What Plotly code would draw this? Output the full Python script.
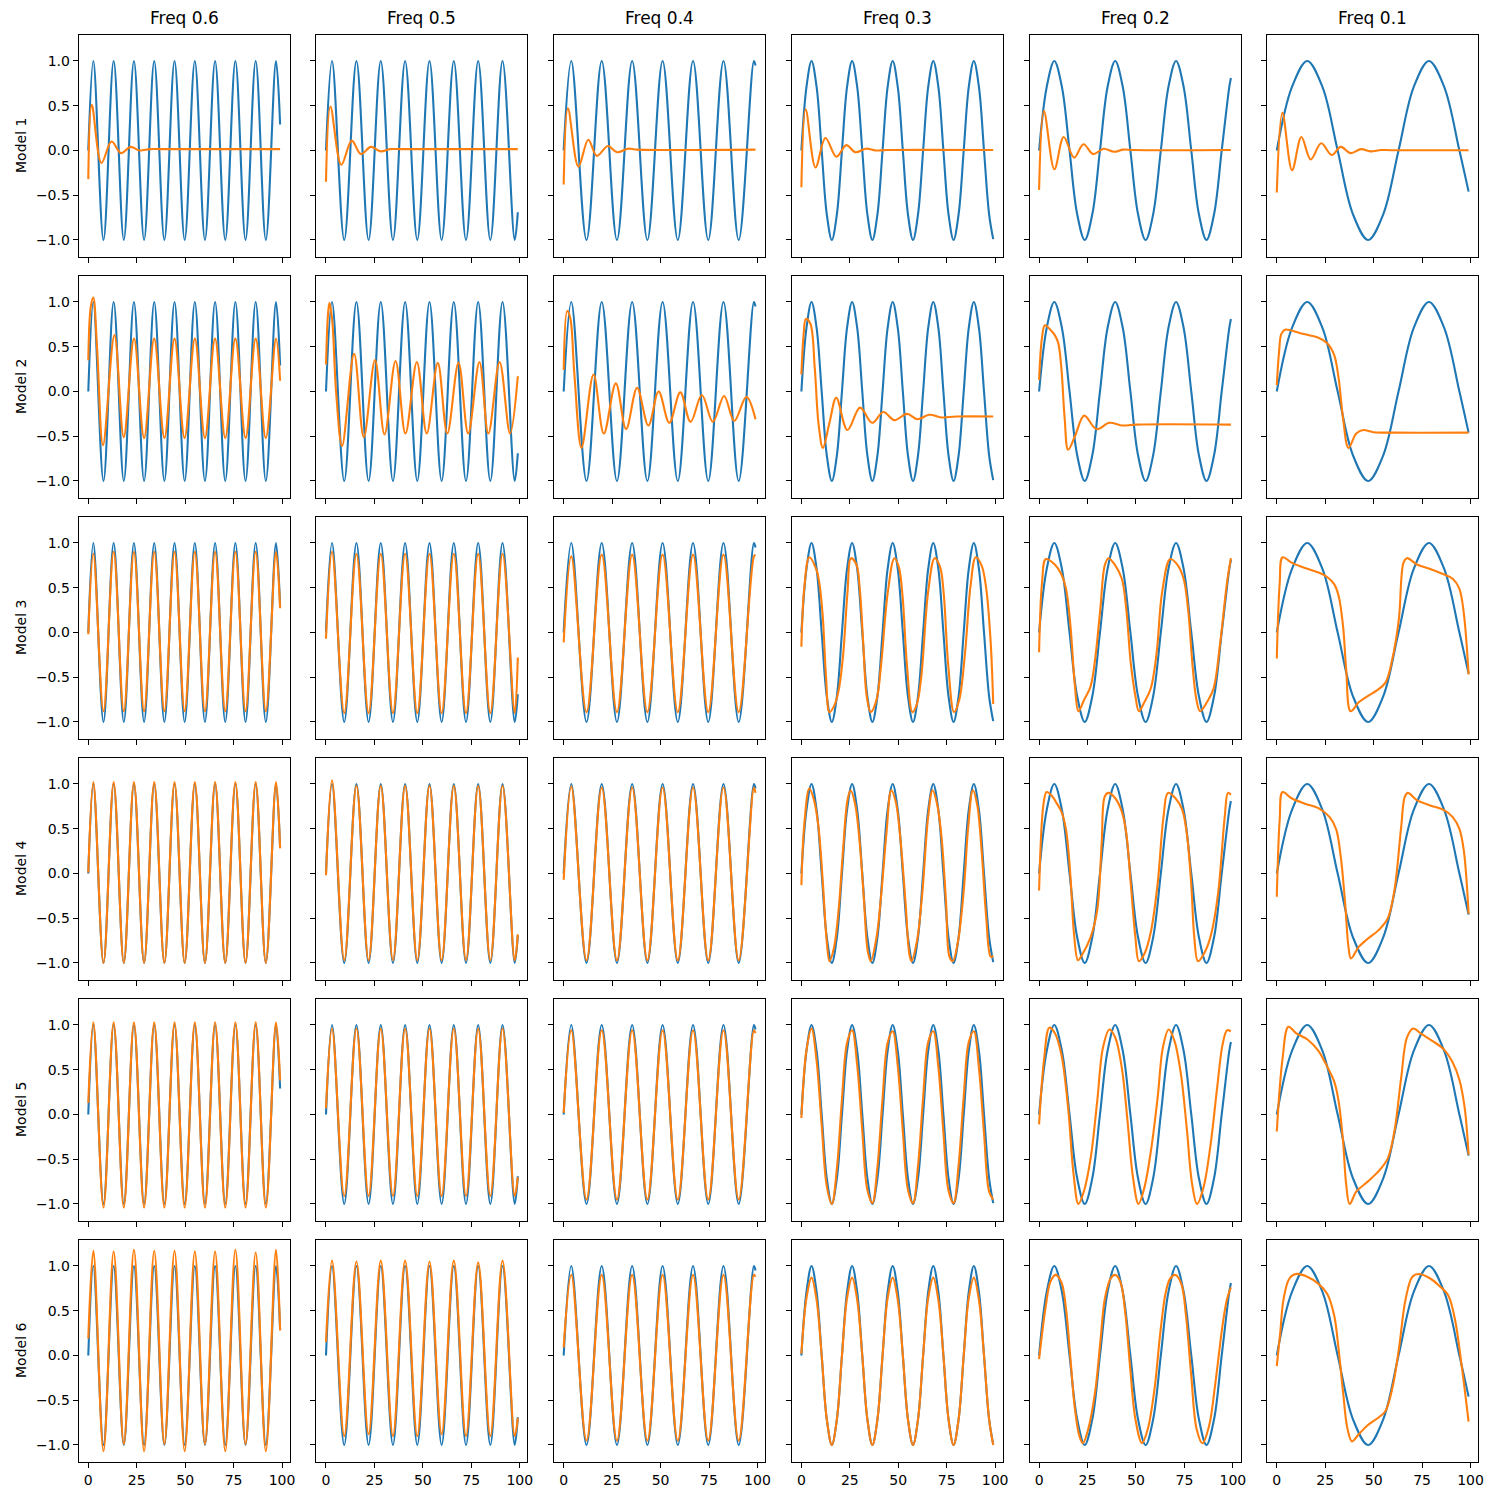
import plotly.graph_objects as go

# ---------------- labels / ticks ----------------
col_titles = ["Freq 0.6", "Freq 0.5", "Freq 0.4", "Freq 0.3", "Freq 0.2", "Freq 0.1"]
row_titles = ["Model 1", "Model 2", "Model 3", "Model 4", "Model 5", "Model 6"]
x_tick_vals = [0, 25, 50, 75, 100]
x_tick_text = ["0", "25", "50", "75", "100"]
y_tick_vals = [-1.0, -0.5, 0.0, 0.5, 1.0]
y_tick_text = ["\u22121.0", "\u22120.5", "0.0", "0.5", "1.0"]

# ---------------- target (blue) sine, key points ----------------
x_grid_06 = [0, 2.62, 7.85, 13.09, 18.33, 23.56, 28.80, 34.03, 39.27, 44.51, 49.74, 54.98,
             60.21, 65.45, 70.69, 75.92, 81.16, 86.39, 91.63, 96.87, 99]
blue_06 = [0, 1, -1, 1, -1, 1, -1, 1, -1, 1, -1, 1, -1, 1, -1, 1, -1, 1, -1, 1, 0.29]

x_grid_05 = [0, 3.14, 9.42, 15.71, 21.99, 28.27, 34.56, 40.84, 47.12, 53.41, 59.69, 65.97,
             72.26, 78.54, 84.82, 91.11, 97.39, 99]
blue_05 = [0, 1, -1, 1, -1, 1, -1, 1, -1, 1, -1, 1, -1, 1, -1, 1, -1, -0.69]

x_grid_04 = [0, 3.93, 11.78, 19.63, 27.49, 35.34, 43.20, 51.05, 58.90, 66.76, 74.61, 82.47,
             90.32, 98.17, 99]
blue_04 = [0, 1, -1, 1, -1, 1, -1, 1, -1, 1, -1, 1, -1, 1, 0.95]

x_grid_03 = [0, 2.62, 5.24, 7.85, 10.47, 13.09, 15.71, 18.33, 20.94, 23.56, 26.18, 28.80,
             31.42, 34.03, 36.65, 39.27, 41.89, 44.51, 47.12, 49.74, 52.36, 54.98, 57.60,
             60.21, 62.83, 65.45, 68.07, 70.69, 73.30, 75.92, 78.54, 81.16, 83.78, 86.39,
             89.01, 91.63, 94.25, 96.87, 99]
blue_03 = [0, .71, 1, .71, 0, -.71, -1, -.71, 0, .71, 1, .71, 0, -.71, -1, -.71,
           0, .71, 1, .71, 0, -.71, -1, -.71, 0, .71, 1, .71, 0, -.71, -1, -.71,
           0, .71, 1, .71, 0, -.71, -0.99]

x_grid_02 = [0, 3.93, 7.85, 11.78, 15.71, 19.63, 23.56, 27.49, 31.42, 35.34, 39.27, 43.20,
             47.12, 51.05, 54.98, 58.90, 62.83, 66.76, 70.69, 74.61, 78.54, 82.47, 86.39,
             90.32, 94.25, 98.17, 99]
blue_02 = [0, .71, 1, .71, 0, -.71, -1, -.71, 0, .71, 1, .71, 0, -.71, -1, -.71,
           0, .71, 1, .71, 0, -.71, -1, -.71, 0, .71, 0.81]

x_grid_01 = [0, 7.85, 15.71, 23.56, 31.42, 39.27, 47.12, 54.98, 62.83, 70.69, 78.54, 86.39, 94.25, 99]
blue_01 = [0, .71, 1, .71, 0, -.71, -1, -.71, 0, .71, 1, .71, 0, -0.46]

# ---------------- model outputs (orange) ----------------
# Model 1
m1_06_x = [0, 1.8, 6.8, 12.0, 16.9, 21.9, 26.4, 31.8, 37, 99]
m1_06_y = [-0.32, 0.51, -0.14, 0.10, -0.03, 0.04, 0.0, 0.015, 0.015, 0.015]
m1_05_x = [0, 2.3, 7.9, 13.3, 18.0, 23.2, 28.2, 33.0, 38, 99]
m1_05_y = [-0.35, 0.49, -0.16, 0.11, -0.04, 0.04, -0.01, 0.015, 0.015, 0.015]
m1_04_x = [0, 2.2, 7.6, 12.7, 17.1, 22.8, 27.5, 33.2, 38, 99]
m1_04_y = [-0.38, 0.47, -0.18, 0.12, -0.06, 0.05, -0.02, 0.02, 0.01, 0.01]
m1_03_x = [0, 2.2, 7.3, 12.4, 18.1, 23.2, 27.9, 33.3, 38.4, 44, 99]
m1_03_y = [-0.41, 0.46, -0.19, 0.14, -0.07, 0.06, -0.02, 0.02, 0.0, 0.005, 0.005]
m1_02_x = [0, 2.5, 7.9, 12.7, 18.1, 22.9, 27.9, 33.3, 38.7, 43.5, 49, 99]
m1_02_y = [-0.44, 0.44, -0.21, 0.15, -0.08, 0.07, -0.04, 0.02, -0.015, 0.01, 0.005, 0.005]
m1_01_x = [0, 2.9, 7.9, 12.7, 17.5, 22.9, 28.3, 33.0, 38.1, 43.5, 48.3, 53.7, 59, 99]
m1_01_y = [-0.47, 0.42, -0.22, 0.15, -0.10, 0.08, -0.05, 0.04, -0.03, 0.015, -0.01, 0.005, 0.003, 0.003]

# Model 2
m2_06_x = [0, 1.3, 2.6, 4.5, 7.6, 13.5, 18.3, 23.6, 28.8, 34.0, 39.3, 44.5, 49.7, 55.0, 60.2,
           65.4, 70.7, 75.9, 81.2, 86.4, 91.6, 96.9, 99]
m2_06_y = [0.35, 0.95, 1.05, 0.5, -0.6, 0.63, -0.51, 0.59, -0.52, 0.59, -0.52, 0.59, -0.52,
           0.59, -0.52, 0.59, -0.52, 0.59, -0.52, 0.59, -0.52, 0.59, 0.12]
m2_05_x = [0, 1.0, 1.8, 3.2, 5.2, 8.3, 14.5, 19.5, 25.3, 30.2, 35.9, 41.0, 46.9, 52.0, 57.7,
           62.6, 68.4, 73.4, 79.2, 83.8, 89.6, 95.0, 99]
m2_05_y = [0.30, 0.85, 0.99, 0.80, 0.0, -0.61, 0.42, -0.51, 0.35, -0.48, 0.34, -0.47, 0.33,
           -0.47, 0.32, -0.47, 0.32, -0.47, 0.33, -0.47, 0.33, -0.47, 0.17]
m2_04_x = [0, 1.8, 3.4, 5.5, 9.2, 15.4, 20.7, 26.9, 32.2, 37.9, 43.7, 49.0, 54.5, 60.2, 65.5,
           71.3, 77.0, 82.8, 88.0, 94.3, 99]
m2_04_y = [0.24, 0.90, 0.82, 0.2, -0.63, 0.19, -0.47, 0.09, -0.42, 0.04, -0.38, 0.0, -0.35,
           -0.01, -0.34, -0.04, -0.34, -0.05, -0.33, -0.06, -0.31]
m2_03_x = [0, 1.2, 2.3, 4.6, 6.9, 8.8, 11.1, 14.5, 18.0, 23.8, 30.3, 36.5, 42.3, 48.0, 54.5,
           60.0, 66.0, 72.3, 80, 99]
m2_03_y = [0.19, 0.65, 0.81, 0.76, 0.26, -0.35, -0.63, -0.35, -0.07, -0.43, -0.18, -0.35,
           -0.23, -0.32, -0.25, -0.31, -0.26, -0.29, -0.28, -0.28]
m2_02_x = [0, 1.5, 3.0, 5.8, 8.1, 9.9, 11.5, 13.2, 15.0, 18.5, 23.3, 29.6, 36.3, 42.7, 50, 99]
m2_02_y = [0.13, 0.6, 0.74, 0.69, 0.63, 0.54, 0.26, -0.30, -0.65, -0.5, -0.27, -0.42, -0.35,
           -0.38, -0.37, -0.37]
m2_01_x = [0, 1.2, 2.3, 4.2, 12.2, 21.5, 26.0, 29.6, 31.9, 34.2, 37.0, 41.0, 44.6, 50.0, 60, 99]
m2_01_y = [0.07, 0.45, 0.64, 0.69, 0.65, 0.60, 0.54, 0.41, 0.15, -0.30, -0.63, -0.47, -0.43,
           -0.455, -0.46, -0.46]

# Model 3
m3_06_y = [-0.02, 0.88, -0.88, 0.9, -0.88, 0.9, -0.88, 0.9, -0.88, 0.9, -0.88, 0.9, -0.88,
           0.9, -0.88, 0.9, -0.88, 0.9, -0.88, 0.9, 0.27]
m3_05_y = [-0.07, 0.9, -0.9, 0.88, -0.9, 0.88, -0.9, 0.88, -0.9, 0.88, -0.9, 0.88, -0.9,
           0.88, -0.9, 0.88, -0.9, -0.28]
m3_04_y = [-0.11, 0.85, -0.89, 0.87, -0.89, 0.87, -0.89, 0.87, -0.89, 0.87, -0.89, 0.87,
           -0.89, 0.85, 0.87]
m3_03_x = [0, 1.5, 4.1, 7.6, 9.2, 11.0, 12.7, 14.5, 16.9, 19.2, 21.5, 23.8, 25.6, 28.4, 30.0,
           31.9, 33.7, 35.8, 38.8, 41.1, 44.6, 48.0, 50.3, 52.2, 54.5, 57.3, 59.6, 61.9, 65.4,
           68.8, 71.6, 73.4, 75.8, 78.8, 81.5, 84.5, 87.3, 90.0, 93.0, 95.4, 97.7, 99]
m3_03_y = [-0.16, 0.5, 0.84, 0.71, 0.56, 0.19, -0.49, -0.89, -0.82, -0.65, -0.26, 0.45, 0.83,
           0.76, 0.52, -0.11, -0.71, -0.89, -0.75, -0.37, 0.45, 0.83, 0.73, 0.41, -0.37, -0.89,
           -0.80, -0.49, 0.45, 0.83, 0.73, 0.45, -0.37, -0.89, -0.75, -0.22, 0.52, 0.84, 0.75,
           0.49, -0.11, -0.80]
m3_02_x = [0, 1.5, 3.5, 8.1, 11.5, 13.9, 16.2, 18.5, 20.3, 23.1, 26.6, 28.9, 31.6, 33.9, 35.8,
           39.3, 42.7, 45.0, 47.3, 49.7, 51.5, 54.3, 57.7, 60.7, 63.5, 67.7, 71.6, 74.6, 76.9,
           79.2, 81.2, 83.1, 86.6, 90.0, 93.5, 97.0, 99]
m3_02_y = [-0.22, 0.55, 0.82, 0.76, 0.65, 0.49, 0.07, -0.6, -0.88, -0.76, -0.6, -0.3, 0.26,
           0.75, 0.83, 0.75, 0.6, 0.26, -0.34, -0.71, -0.88, -0.78, -0.62, -0.22, 0.45, 0.82,
           0.75, 0.6, 0.26, -0.37, -0.75, -0.88, -0.78, -0.63, -0.11, 0.56, 0.83]
m3_01_x = [0, 1.5, 3.0, 7.6, 14.5, 21.5, 26.0, 29.6, 31.9, 34.2, 35.8, 38.1, 42.3, 46.9, 51.5,
           56.1, 59.6, 63.0, 65.4, 67.2, 72.3, 79.2, 86.1, 90.8, 94.2, 96.5, 99]
m3_01_y = [-0.29, 0.55, 0.84, 0.78, 0.72, 0.67, 0.62, 0.54, 0.41, 0.07, -0.41, -0.88, -0.78,
           -0.71, -0.65, -0.56, -0.3, 0.15, 0.78, 0.83, 0.76, 0.71, 0.65, 0.6, 0.49, 0.22, -0.47]

# Model 4
m4_06_y = [0.01, 1.02, -1.0, 1.02, -1.0, 1.02, -1.0, 1.02, -1.0, 1.02, -1.0, 1.02, -1.0,
           1.02, -1.0, 1.02, -1.0, 1.02, -1.0, 1.02, 0.28]
m4_05_y = [-0.02, 1.04, -0.97, 0.98, -0.97, 0.98, -0.97, 0.98, -0.97, 0.98, -0.97, 0.98,
           -0.97, 0.98, -0.97, 0.98, -0.97, -0.68]
m4_04_y = [-0.07, 0.97, -0.97, 0.96, -0.97, 0.96, -0.97, 0.96, -0.97, 0.96, -0.97, 0.96,
           -0.97, 0.96, 0.9]
m4_03_x = [0, 1.5, 4.1, 6.5, 8.8, 11.1, 12.9, 14.5, 16.9, 19.2, 21.5, 23.8, 25.4, 27.7, 30.0,
           32.3, 34.2, 35.8, 38.8, 41.1, 43.9, 46.4, 48.7, 51.0, 53.8, 55.7, 56.8, 59.6, 62.4,
           65.4, 67.7, 70.0, 72.3, 74.6, 76.4, 78.1, 80.8, 83.8, 86.1, 88.5, 90.8, 93.0, 95.4,
           97.7, 99]
m4_03_y = [-0.13, 0.55, 0.95, 0.82, 0.52, -0.11, -0.71, -0.98, -0.82, -0.41, 0.26, 0.82, 0.93,
           0.78, 0.37, -0.3, -0.86, -0.98, -0.71, -0.26, 0.45, 0.93, 0.8, 0.41, -0.34, -0.9,
           -0.98, -0.76, -0.22, 0.63, 0.93, 0.78, 0.41, -0.3, -0.93, -0.98, -0.76, -0.19, 0.52,
           0.93, 0.76, 0.26, -0.49, -0.93, -0.92]
m4_02_x = [0, 2.3, 3.9, 6.9, 9.2, 11.5, 13.9, 16.2, 18.0, 20.1, 22.4, 26.6, 30.0, 32.3, 33.9,
           35.8, 39.3, 42.7, 45.0, 47.3, 49.7, 51.5, 54.3, 57.7, 61.2, 64.2, 66.5, 70.4, 73.9,
           76.2, 78.5, 80.1, 82.0, 85.5, 88.9, 92.4, 95.8, 97.5, 99]
m4_02_y = [-0.19, 0.78, 0.91, 0.86, 0.78, 0.69, 0.49, -0.04, -0.67, -0.97, -0.9, -0.71, -0.41,
           0.34, 0.86, 0.9, 0.84, 0.69, 0.45, -0.11, -0.71, -0.98, -0.9, -0.65, -0.11, 0.63,
           0.9, 0.84, 0.71, 0.45, -0.11, -0.71, -0.98, -0.88, -0.67, -0.22, 0.63, 0.9, 0.88]
m4_01_x = [0, 1.5, 3.0, 7.6, 14.5, 21.5, 27.3, 30.7, 33.0, 35.3, 37.0, 38.3, 42.3, 46.9, 52.7,
           57.3, 60.7, 64.2, 66.1, 67.7, 72.3, 79.2, 86.1, 90.8, 94.2, 96.5, 99]
m4_01_y = [-0.26, 0.6, 0.91, 0.84, 0.78, 0.73, 0.63, 0.49, 0.19, -0.34, -0.82, -0.95, -0.82,
           -0.73, -0.63, -0.5, -0.19, 0.52, 0.86, 0.9, 0.82, 0.76, 0.71, 0.63, 0.5, 0.26, -0.45]

# Model 5
m5_06_y = [0.13, 1.03, -1.04, 1.03, -1.04, 1.03, -1.04, 1.03, -1.04, 1.03, -1.04, 1.03, -1.04,
           1.03, -1.04, 1.03, -1.04, 1.03, -1.04, 1.03, 0.38]
m5_05_y = [0.07, 0.96, -0.91, 0.96, -0.91, 0.96, -0.91, 0.96, -0.91, 0.96, -0.91, 0.96, -0.91,
           0.96, -0.91, 0.96, -0.91, -0.7]
m5_04_y = [0.02, 0.94, -0.95, 0.94, -0.95, 0.94, -0.95, 0.94, -0.95, 0.94, -0.95, 0.94, -0.95,
           0.94, 0.91]
m5_03_y = [-0.04, 0.72, 0.96, 0.6, -0.12, -0.8, -1.0, -0.6,
           0.17, 0.8, 0.94, 0.55, -0.18, -0.84, -0.99, -0.58,
           0.18, 0.8, 0.93, 0.54, -0.19, -0.84, -0.99, -0.57,
           0.19, 0.81, 0.93, 0.53, -0.2, -0.85, -0.99, -0.56,
           0.2, 0.81, 0.93, 0.52, -0.21, -0.86, -0.95]
m5_02_x = [0, 2.5, 5.3, 8.1, 11.5, 15.0, 17.8, 20.3, 23.1, 26.6, 30.0, 33.0, 36.3, 39.3, 42.7,
           45.5, 48.5, 51.3, 54.3, 57.7, 61.2, 63.9, 66.9, 69.9, 73.2, 76.2, 79.0, 81.5, 84.8,
           88.5, 91.7, 94.7, 97.0, 99]
m5_02_y = [-0.11, 0.6, 0.97, 0.91, 0.67, 0.07, -0.67, -1.0, -0.86, -0.49, 0.15, 0.75, 0.95,
           0.86, 0.52, -0.04, -0.71, -1.0, -0.82, -0.41, 0.19, 0.75, 0.95, 0.82, 0.45, -0.15,
           -0.78, -1.0, -0.82, -0.34, 0.26, 0.78, 0.94, 0.93]
m5_01_x = [0, 3.0, 6.0, 9.9, 15.7, 21.5, 24.9, 29.6, 31.9, 34.2, 35.8, 37.6, 41.1, 46.9, 52.7,
           57.3, 60.7, 64.2, 67.2, 70.4, 74.6, 80.4, 86.1, 90.8, 94.2, 97.0, 99]
m5_01_y = [-0.19, 0.63, 0.98, 0.91, 0.84, 0.71, 0.58, 0.37, 0.15, -0.3, -0.78, -1.0, -0.86,
           -0.75, -0.63, -0.49, -0.19, 0.41, 0.86, 0.96, 0.9, 0.82, 0.73, 0.58, 0.39, 0.07, -0.45]

# Model 6
m6_06_y = [0.19, 1.17, -1.07, 1.16, -0.99, 1.18, -1.07, 1.17, -0.99, 1.17, -1.07, 1.16, -0.99,
           1.16, -1.07, 1.18, -0.99, 1.15, -1.07, 1.18, 0.28]
m6_05_y = [0.15, 1.06, -0.9, 1.05, -0.88, 1.06, -0.9, 1.06, -0.9, 1.05, -0.88, 1.06, -0.9,
           1.04, -0.9, 1.06, -0.9, -0.7]
m6_04_y = [0.09, 0.9, -0.95, 0.9, -0.95, 0.9, -0.95, 0.9, -0.95, 0.9, -0.95, 0.9, -0.95,
           0.9, 0.88]
m6_03_y = [0.02, 0.64, 0.87, 0.62, 0.0, -0.71, -1.0, -0.71,
           0.0, 0.64, 0.87, 0.62, 0.0, -0.71, -1.0, -0.71,
           0.0, 0.64, 0.87, 0.62, 0.0, -0.71, -1.0, -0.71,
           0.0, 0.64, 0.87, 0.62, 0.0, -0.71, -1.0, -0.71,
           0.0, 0.64, 0.87, 0.62, 0.0, -0.71, -1.0]
m6_02_x = [0, 3.5, 5.8, 8.5, 11.5, 13.9, 16.2, 18.5, 20.8, 22.6, 25.4, 28.9, 31.6, 33.9, 36.9,
           39.3, 42.0, 44.6, 46.9, 49.7, 53.1, 56.1, 59.6, 62.6, 65.4, 67.7, 70.4, 73.4, 75.8,
           78.5, 81.3, 84.3, 87.8, 90.8, 94.7, 97.0, 99]
m6_02_y = [-0.04, 0.56, 0.82, 0.9, 0.82, 0.52, -0.04, -0.6, -0.9, -0.98, -0.82, -0.41, 0.15,
           0.63, 0.86, 0.9, 0.82, 0.45, -0.11, -0.71, -0.98, -0.82, -0.37, 0.26, 0.71, 0.86,
           0.9, 0.8, 0.45, -0.22, -0.82, -0.98, -0.78, -0.34, 0.34, 0.63, 0.76]
m6_01_x = [0, 1.8, 3.5, 6.5, 9.9, 15.7, 21.5, 26.0, 29.6, 31.9, 34.2, 36.5, 38.8, 42.3, 46.9,
           52.7, 56.1, 59.6, 63.0, 66.5, 70.0, 73.4, 79.2, 83.8, 88.5, 91.9, 95.4, 99]
m6_01_y = [-0.12, 0.26, 0.63, 0.86, 0.91, 0.88, 0.8, 0.69, 0.45, 0.07, -0.41, -0.82, -0.96,
           -0.88, -0.78, -0.69, -0.62, -0.37, 0.07, 0.63, 0.88, 0.91, 0.86, 0.78, 0.67, 0.41,
           -0.11, -0.74]

# ---------------- assemble ----------------
blue_series = [(x_grid_06, blue_06), (x_grid_05, blue_05), (x_grid_04, blue_04),
               (x_grid_03, blue_03), (x_grid_02, blue_02), (x_grid_01, blue_01)]
orange_series = [
    [(m1_06_x, m1_06_y), (m1_05_x, m1_05_y), (m1_04_x, m1_04_y), (m1_03_x, m1_03_y), (m1_02_x, m1_02_y), (m1_01_x, m1_01_y)],
    [(m2_06_x, m2_06_y), (m2_05_x, m2_05_y), (m2_04_x, m2_04_y), (m2_03_x, m2_03_y), (m2_02_x, m2_02_y), (m2_01_x, m2_01_y)],
    [(x_grid_06, m3_06_y), (x_grid_05, m3_05_y), (x_grid_04, m3_04_y), (m3_03_x, m3_03_y), (m3_02_x, m3_02_y), (m3_01_x, m3_01_y)],
    [(x_grid_06, m4_06_y), (x_grid_05, m4_05_y), (x_grid_04, m4_04_y), (m4_03_x, m4_03_y), (m4_02_x, m4_02_y), (m4_01_x, m4_01_y)],
    [(x_grid_06, m5_06_y), (x_grid_05, m5_05_y), (x_grid_04, m5_04_y), (x_grid_03, m5_03_y), (m5_02_x, m5_02_y), (m5_01_x, m5_01_y)],
    [(x_grid_06, m6_06_y), (x_grid_05, m6_05_y), (x_grid_04, m6_04_y), (x_grid_03, m6_03_y), (m6_02_x, m6_02_y), (m6_01_x, m6_01_y)],
]

BLUE = "#1f77b4"
ORANGE = "#ff7f0e"
W = H = 1500
COL_LEFT0, COL_STEP, COL_W = 78.7, 237.7, 211.0
ROW_TOP0, ROW_STEP, ROW_H = 35.0, 241.0, 222.0
X_RANGE = [-4.95, 103.95]
Y_RANGE = [-1.19, 1.29]
LINE_W = 2.1

fig = go.Figure()
layout = dict(
    width=W, height=H, autosize=False,
    margin=dict(l=0, r=0, t=0, b=0, pad=0),
    paper_bgcolor="white", plot_bgcolor="white",
    showlegend=False,
    font=dict(family="DejaVu Sans", size=14, color="black"),
)
annotations = []

for r in range(6):
    for c in range(6):
        n = r * 6 + c + 1
        sfx = "" if n == 1 else str(n)
        xref, yref = "x" + sfx, "y" + sfx
        bx, by = blue_series[c]
        ox, oy = orange_series[r][c]
        if len(ox) != len(oy):
            print("length mismatch", r, c, len(ox), len(oy))
        fig.add_trace(go.Scatter(x=bx, y=by, xaxis=xref, yaxis=yref, mode="lines",
                                 line=dict(color=BLUE, width=LINE_W, shape="spline", smoothing=1, simplify=False),
                                 hoverinfo="skip"))
        fig.add_trace(go.Scatter(x=ox, y=oy, xaxis=xref, yaxis=yref, mode="lines",
                                 line=dict(color=ORANGE, width=LINE_W, shape="spline", smoothing=1, simplify=False),
                                 hoverinfo="skip"))
        left = COL_LEFT0 + c * COL_STEP
        top = ROW_TOP0 + r * ROW_STEP
        common = dict(showline=True, linecolor="black", linewidth=1, mirror=True,
                      ticks="outside", ticklen=5, tickwidth=1, tickcolor="black",
                      showgrid=False, zeroline=False, fixedrange=True, automargin=False,
                      tickfont=dict(family="DejaVu Sans", size=14, color="black"))
        layout["xaxis" + sfx] = dict(domain=[left / W, (left + COL_W) / W], range=X_RANGE,
                                     anchor=yref, tickmode="array", tickvals=x_tick_vals,
                                     ticktext=x_tick_text, showticklabels=(r == 5), **common)
        layout["yaxis" + sfx] = dict(domain=[1 - (top + ROW_H) / H, 1 - top / H], range=Y_RANGE,
                                     anchor=xref, tickmode="array", tickvals=y_tick_vals,
                                     ticktext=y_tick_text, showticklabels=(c == 0), **common)

for c, t in enumerate(col_titles):
    cx = COL_LEFT0 + c * COL_STEP + COL_W / 2
    annotations.append(dict(text=t, x=cx / W, y=1 - 30 / H, xref="paper", yref="paper",
                            xanchor="center", yanchor="bottom", showarrow=False,
                            font=dict(family="DejaVu Sans", size=17, color="black")))
for r, t in enumerate(row_titles):
    cy = ROW_TOP0 + r * ROW_STEP + ROW_H / 2
    annotations.append(dict(text=t, x=21 / W, y=1 - cy / H, xref="paper", yref="paper",
                            xanchor="center", yanchor="middle", textangle=-90, showarrow=False,
                            font=dict(family="DejaVu Sans", size=14, color="black")))
layout["annotations"] = annotations
fig.update_layout(**layout)
fig.write_html("out.html")
